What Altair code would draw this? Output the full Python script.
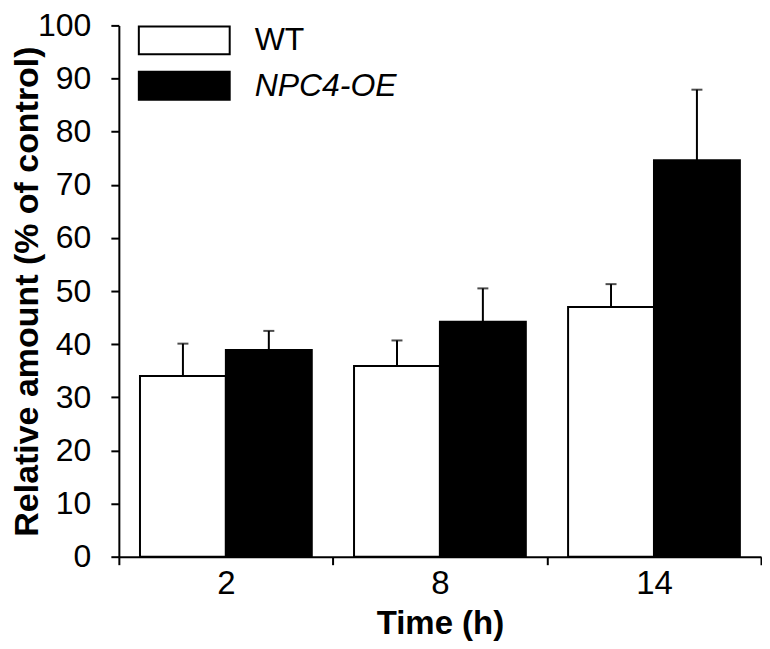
import altair as alt
import pandas as pd

times = ["2", "8", "14"]
genotypes = ["WT", "NPC4-OE"]
wt_mean = [34.0, 35.9, 47.0]
wt_err = [6.1, 4.8, 4.3]
npc_mean = [38.9, 44.2, 74.6]
npc_err = [3.6, 6.3, 13.3]
y_ticks = [0, 10, 20, 30, 40, 50, 60, 70, 80, 90, 100]

rows = []
for i, t in enumerate(times):
    rows.append({"time": t, "genotype": "WT", "mean": wt_mean[i], "upper": wt_mean[i] + wt_err[i]})
    rows.append({"time": t, "genotype": "NPC4-OE", "mean": npc_mean[i], "upper": npc_mean[i] + npc_err[i]})
df = pd.DataFrame(rows)

FONT = "Liberation Sans"

x_enc = alt.X(
    "time:N", sort=times,
    scale=alt.Scale(paddingInner=0, paddingOuter=0),
    axis=alt.Axis(title="Time (h)", labelAngle=0, tickBand="extent",
                  labelFontSize=33, labelPadding=3, titleFontSize=33,
                  titleFontWeight="bold", titlePadding=7),
)
xo_enc = alt.XOffset("genotype:N", sort=genotypes,
                     scale=alt.Scale(domain=genotypes, paddingInner=0, paddingOuter=0.246))
y_scale = alt.Scale(domain=[0, 100], nice=False)

bars = alt.Chart(df).mark_bar(stroke="black", strokeWidth=2).encode(
    x=x_enc,
    xOffset=xo_enc,
    y=alt.Y("mean:Q", scale=y_scale,
            axis=alt.Axis(title="Relative amount (% of control)", values=y_ticks,
                          labelFontSize=32, labelPadding=20, titleFontSize=34,
                          titleFontWeight="bold", titlePadding=-7)),
    fill=alt.Fill("genotype:N", sort=genotypes,
                  scale=alt.Scale(domain=genotypes, range=["white", "black"]),
                  legend=alt.Legend(
                      title=None, orient="none", legendX=49.5, legendY=-1,
                      symbolType="M-3.033,-0.933H3.033V0.933H-3.033Z", symbolSize=900,
                      symbolStrokeColor="black", symbolStrokeWidth=2,
                      labelFont=FONT, labelFontSize=32, labelColor="black",
                      labelOffset=54.5, rowPadding=9.5, padding=0,
                      labelFontStyle={"expr": "datum.label == 'WT' ? 'normal' : 'italic'"},
                  )),
)

rules = alt.Chart(df).mark_rule(color="black", strokeWidth=2).encode(
    x=x_enc, xOffset=xo_enc,
    y=alt.Y("mean:Q", scale=y_scale),
    y2="upper:Q",
)

caps = alt.Chart(df).mark_tick(color="black", thickness=2, size=11, orient="horizontal").encode(
    x=x_enc, xOffset=xo_enc,
    y=alt.Y("upper:Q", scale=y_scale),
)

chart = alt.layer(bars, rules, caps).properties(
    width=643, height=532,
    padding={"left": 2, "top": 1, "right": 0, "bottom": 0},
).configure(
    font=FONT,
).configure_view(
    stroke=None,
).configure_axis(
    grid=False,
    domainColor="black", domainWidth=2,
    tickColor="black", tickWidth=2, tickSize=8,
    labelColor="black", titleColor="black",
    labelFont=FONT, titleFont=FONT,
)

chart.save("out.html", embed_options={"renderer": "svg", "actions": False})
